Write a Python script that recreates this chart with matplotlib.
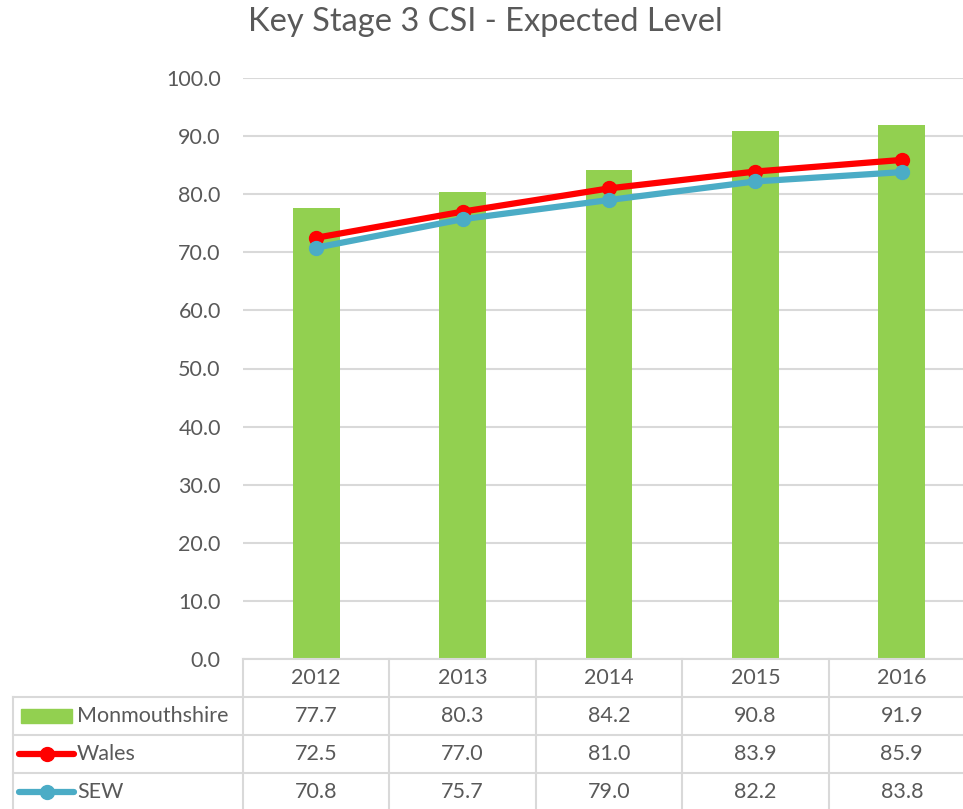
import matplotlib.pyplot as plt
from matplotlib.patches import Rectangle
from matplotlib.lines import Line2D

years = ['2012', '2013', '2014', '2015', '2016']
monmouthshire = [77.7, 80.3, 84.2, 90.8, 91.9]
wales = [72.5, 77.0, 81.0, 83.9, 85.9]
sew = [70.8, 75.7, 79.0, 82.2, 83.8]

GREEN = '#92D050'
RED = '#FF0000'
BLUE = '#4BACC6'
GRID = '#D9D9D9'
TXT = '#595959'
FS = 15.5

plt.rcParams['font.family'] = ['Lato', 'DejaVu Sans']

fig = plt.figure(figsize=(9.63, 8.09), dpi=100)
# axes spans beyond right edge like the original
ax = fig.add_axes([243 / 963, 1 - 659 / 809, 732 / 963, 581 / 809])

x = list(range(len(years)))
ax.bar(x, monmouthshire, width=0.32, color=GREEN, zorder=2)
ax.plot(x, wales, color=RED, lw=4.5, marker='o', ms=10, zorder=3)
ax.plot(x, sew, color=BLUE, lw=4.5, marker='o', ms=10, zorder=4)

ax.set_xlim(-0.5, 4.5)
ax.set_ylim(0, 100)
ax.set_yticks(range(0, 101, 10))
ax.set_yticklabels([f'{v:.1f}' for v in range(0, 101, 10)], fontsize=FS, color=TXT)
ax.yaxis.grid(True, color=GRID, lw=1.5, zorder=0)
ax.set_xticks([])
ax.tick_params(axis='y', length=0, pad=16)
for s in ['top', 'right', 'left']:
    ax.spines[s].set_visible(False)
ax.spines['bottom'].set_color(GRID)
ax.spines['bottom'].set_linewidth(1.5)

fig.suptitle('Key Stage 3 CSI - Expected Level', x=485 / 963, y=1 - 22 / 809,
             va='center', fontsize=23.5, color=TXT)

# data table below the axis
tr = ax.get_xaxis_transform()
row_h = 38 / 581
left = (13 - 243) / 146.4 - 0.5
lk = dict(color=GRID, lw=1.5, clip_on=False, transform=tr)
for r in range(1, 4):
    ax.plot([left, 4.5], [-r * row_h, -r * row_h], **lk)
ax.plot([left, left], [-row_h, -4 * row_h], **lk)
for b in range(6):
    ax.plot([b - 0.5, b - 0.5], [0, -4 * row_h], **lk)

for i, yr in enumerate(years):
    ax.text(i, -0.5 * row_h, yr, transform=tr, ha='center', va='center',
            fontsize=FS, color=TXT, clip_on=False)

rows = [('Monmouthshire', monmouthshire), ('Wales', wales), ('SEW', sew)]
px = 1 / 146.4
for r, (name, vals) in enumerate(rows):
    yc = -(r + 1.5) * row_h
    for i, v in enumerate(vals):
        ax.text(i, yc, f'{v:.1f}', transform=tr, ha='center', va='center',
                fontsize=FS, color=TXT, clip_on=False)
    ax.text(left + 64 * px, yc, name, transform=tr, ha='left', va='center',
            fontsize=FS, color=TXT, clip_on=False)

# legend keys in the table
y0 = -(1.5) * row_h
ax.add_patch(Rectangle((left + 8 * px, y0 - 7 / 581), 51 * px, 14 / 581,
                       transform=tr, color=GREEN, clip_on=False))
for r, c in [(1, RED), (2, BLUE)]:
    yc = -(r + 1.5) * row_h
    ax.add_line(Line2D([left + 6 * px, left + 61 * px], [yc, yc], color=c, lw=4.5,
                       transform=tr, clip_on=False, solid_capstyle='round'))
    ax.add_line(Line2D([left + 34 * px], [yc], color=c, marker='o', ms=10,
                       transform=tr, clip_on=False))

fig.savefig('out.png', dpi=100)
